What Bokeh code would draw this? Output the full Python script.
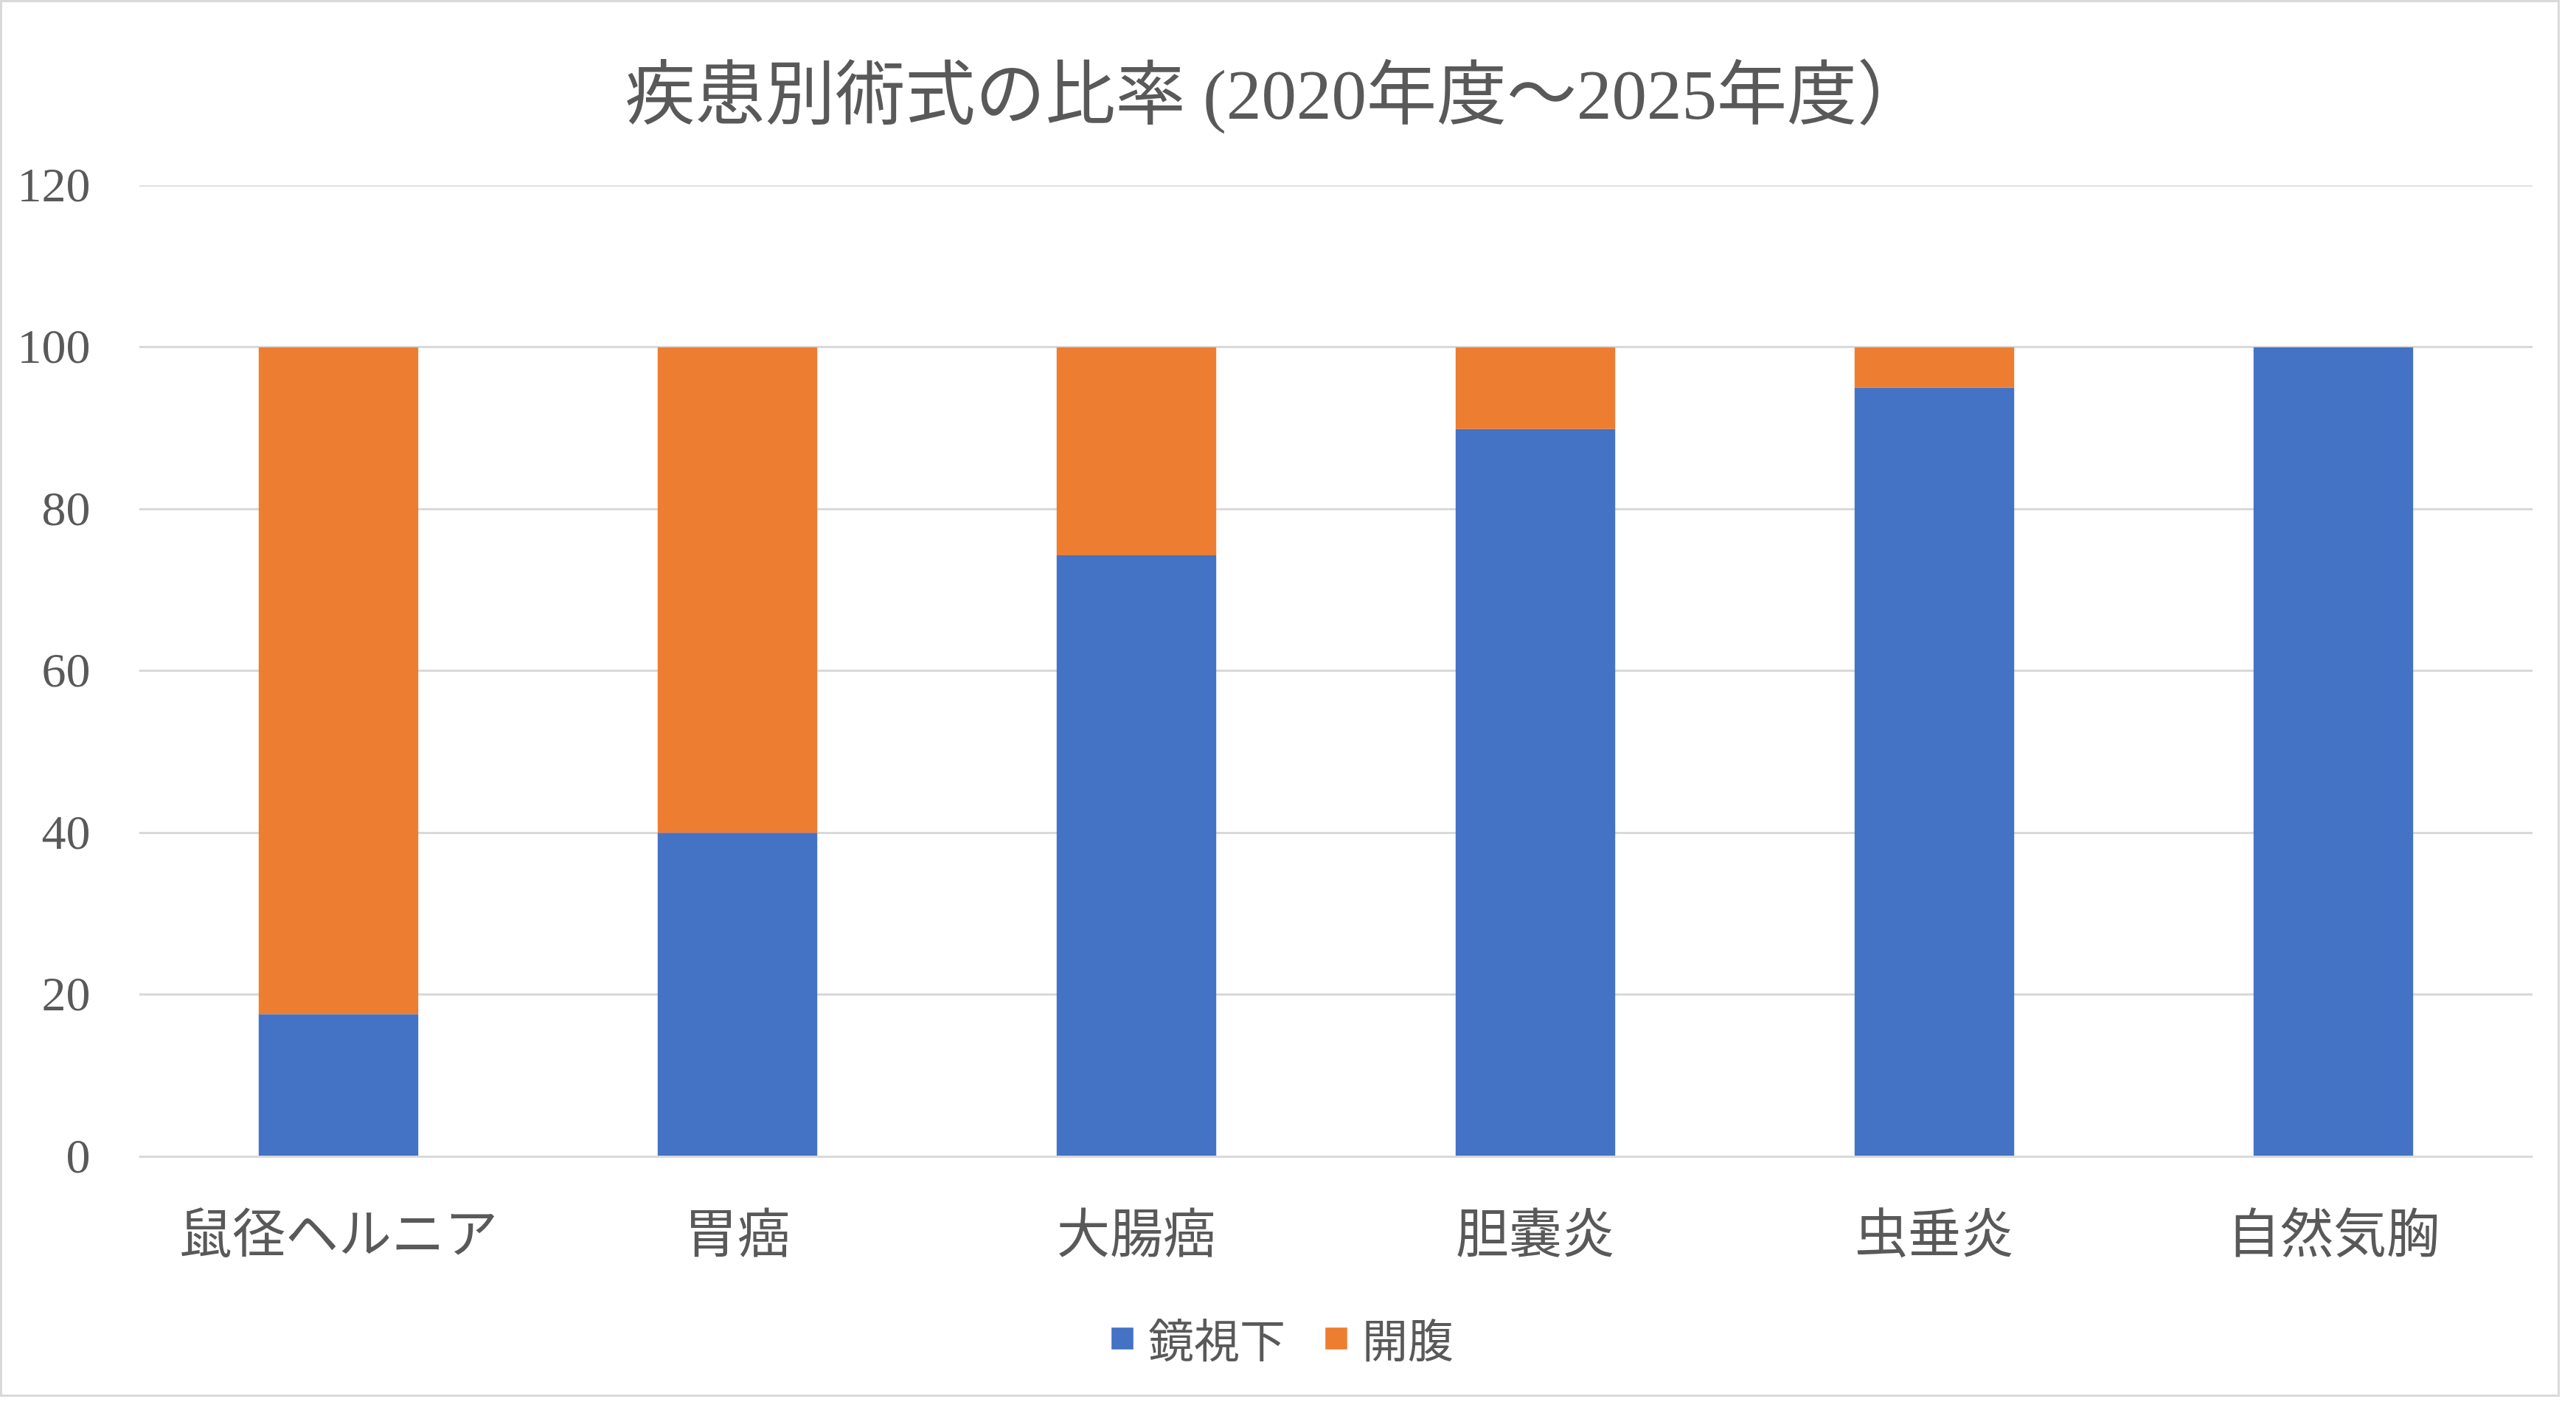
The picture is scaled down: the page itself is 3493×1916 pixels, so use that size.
from bokeh.plotting import figure
from bokeh.models import ColumnDataSource, FactorRange, Range1d, Legend, LegendItem, FixedTicker, Span
from bokeh.embed import file_html
from bokeh.resources import INLINE

title_text = "疾患別術式の比率 (2020年度～2025年度）"
categories = ["鼠径ヘルニア", "胃癌", "大腸癌", "胆嚢炎", "虫垂炎", "自然気胸"]
series_names = ["鏡視下", "開腹"]
laparoscopic = [17.6, 40.0, 74.3, 89.9, 95.0, 100.0]
open_surgery = [82.4, 60.0, 25.7, 10.1, 5.0, 0.0]
y_ticks = [0, 20, 40, 60, 80, 100, 120]

colors = ["#4472C4", "#ED7D31"]
text_color = "#595959"
grid_color = "#D9D9D9"
serif_cjk = "'Liberation Serif', 'Noto Sans CJK JP'"

source = ColumnDataSource(data=dict(cat=categories, a=laparoscopic, b=open_surgery))

# frame extends below the value axis so that category labels and legend fit inside it
p = figure(
    width=3471, height=1894,
    x_range=FactorRange(*categories),
    y_range=Range1d(-30, max(y_ticks)),
    output_backend="svg", toolbar_location=None,
    min_border_left=185, min_border_right=40,
    min_border_top=248, min_border_bottom=0,
)
p.styles = {"border": "3px solid #D9D9D9"}

p.add_layout(Span(location=max(y_ticks), dimension="width", line_color=grid_color, line_width=3))

renderers = p.vbar_stack(["a", "b"], x="cat", width=0.4, color=colors, source=source, line_width=0)

p.title.text = title_text
p.title.align = "left"
p.title.vertical_align = "middle"
p.title.text_font = serif_cjk
p.title.text_font_size = "95px"
p.title.text_font_style = "normal"
p.title.text_color = text_color
p.title.standoff = 137
p.title.offset = 659

p.outline_line_color = None
p.background_fill_color = "white"
p.border_fill_color = "white"

p.xgrid.grid_line_color = None
p.ygrid.ticker = FixedTicker(ticks=y_ticks)
p.ygrid.grid_line_color = grid_color
p.ygrid.grid_line_width = 3

p.yaxis.ticker = FixedTicker(ticks=y_ticks)
p.yaxis.axis_line_color = None
p.yaxis.major_tick_line_color = None
p.yaxis.minor_tick_line_color = None
p.yaxis.major_label_text_font = serif_cjk
p.yaxis.major_label_text_font_size = "66px"
p.yaxis.major_label_text_color = text_color
p.yaxis.major_label_standoff = 60

p.xaxis.fixed_location = 0
p.xaxis.axis_line_color = grid_color
p.xaxis.axis_line_width = 3
p.xaxis.major_tick_line_color = None
p.xaxis.minor_tick_line_color = None
p.xaxis.major_label_text_font = serif_cjk
p.xaxis.major_label_text_font_size = "72px"
p.xaxis.major_label_text_color = text_color
p.xaxis.major_label_standoff = 60

legend = Legend(
    items=[LegendItem(label=series_names[0], renderers=[renderers[0]]),
           LegendItem(label=series_names[1], renderers=[renderers[1]])],
    orientation="horizontal", location=(1315, 38),
    glyph_width=37, glyph_height=37, label_standoff=17, spacing=50,
    label_text_font=serif_cjk, label_text_font_size="62px", label_text_color=text_color,
    border_line_color=None, background_fill_alpha=0, margin=0, padding=0,
)
p.add_layout(legend, "center")

open("out.html", "w").write(file_html(p, INLINE))
